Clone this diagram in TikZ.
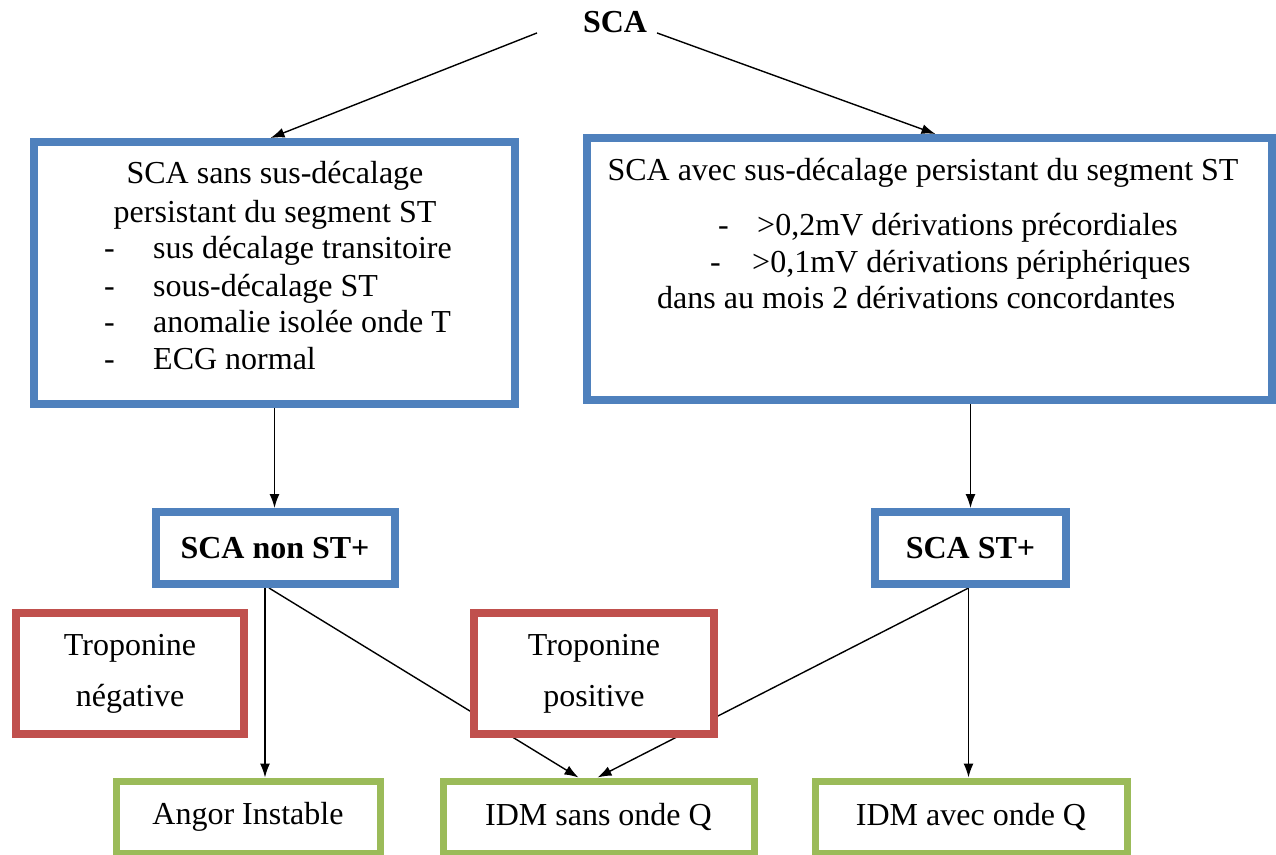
\documentclass[tikz,border=0pt]{standalone}
\usepackage{fontspec}
\setmainfont{Liberation Serif}
\usetikzlibrary{arrows.meta,backgrounds}

\definecolor{boxblue}{RGB}{79,129,189}
\definecolor{boxred}{RGB}{192,80,77}
\definecolor{boxgreen}{RGB}{155,187,89}

\tikzset{
	txt/.style={font=\fontsize{32}{38}\selectfont, inner sep=0pt},
	bld/.style={font=\fontsize{32}{38}\selectfont\bfseries, inner sep=0pt},
	tro/.style={font=\fontsize{32}{51}\selectfont, inner sep=0pt, align=center},
	bluebox/.style={draw=boxblue, line width=8pt, fill=white},
	redbox/.style={draw=boxred, line width=8pt, fill=white},
	greenbox/.style={draw=boxgreen, line width=7pt, fill=white},
	arr/.style={line width=1.4pt, -{Latex[length=14pt,width=10pt]}}
}

\begin{document}
\begin{tikzpicture}[x=1pt,y=1pt,yscale=-1,xscale=1]
		\useasboundingbox (0,0) rectangle (1276,854);
		
		\node [bld] (sca) at (615,22) {SCA};
		
		% two big boxes
		\node [bluebox, minimum width=481pt, minimum height=262pt] (nost) at (274.5,273) {};
		\node [bluebox, minimum width=685pt, minimum height=262pt] (cs) at (929.5,269) {};
		
		\node [txt, anchor=base] (nostA) at (275,183) {SCA sans sus-décalage};
		\node [txt, anchor=base] (nostB) at (275,222) {persistant du segment ST};
		\node [txt, anchor=base west] (d1) at (104,258) {-};
		\node [txt, anchor=base west] (l1) at (153,258) {sus décalage transitoire};
		\node [txt, anchor=base west] (d2) at (104,296) {-};
		\node [txt, anchor=base west] (l2) at (153,296) {sous-décalage ST};
		\node [txt, anchor=base west] (d3) at (104,332) {-};
		\node [txt, anchor=base west] (l3) at (153,332) {anomalie isolée onde T};
		\node [txt, anchor=base west] (d4) at (104,369) {-};
		\node [txt, anchor=base west] (l4) at (153,369) {ECG normal};
		
		\node [txt, anchor=base] (csA) at (923,180) {SCA avec sus-décalage persistant du segment ST};
		\node [txt, anchor=base west] (d5) at (718,235) {-};
		\node [txt, anchor=base west] (r1) at (757,235) {>0,2mV dérivations précordiales};
		\node [txt, anchor=base west] (d6) at (710,272) {-};
		\node [txt, anchor=base west] (r2) at (752,272) {>0,1mV dérivations périphériques};
		\node [txt, anchor=base west] (r3) at (657,308) {dans au mois 2 dérivations concordantes};
		
		% middle row
		\node [bluebox, bld, minimum width=239pt, minimum height=72pt] (nonst) at (275,548) {SCA non ST+};
		\node [bluebox, bld, minimum width=191pt, minimum height=72pt] (st) at (970.5,548) {SCA ST+};
		\node [redbox, tro, minimum width=228pt, minimum height=121pt] (tneg) at (130,673.5) {Troponine\\négative};
		\node [redbox, tro, minimum width=240pt, minimum height=121pt] (tpos) at (594,673.5) {Troponine\\positive};
		
		% bottom row
		\node [greenbox, txt, minimum width=264pt, minimum height=72pt] (angor) at (248,817) {Angor Instable};
		\node [greenbox, txt, minimum width=311pt, minimum height=72pt] (idm) at (598.5,817) {IDM sans onde Q};
		\node [greenbox, txt, minimum width=312pt, minimum height=72pt] (idmq) at (971,817) {IDM avec onde Q};
		
		\begin{scope}[on background layer]
		\draw [arr] ([xshift=-78pt]sca.south) -- ([xshift=-4pt]nost.north);
		\draw [arr] ([xshift=42pt]sca.south) -- ([xshift=6pt]cs.north);
		\draw [arr] (nost.south) -- (nost.south |- nonst.north);
		\draw [arr] (cs.south -| st.north) -- (st.north);
		\draw [arr] ([xshift=-10pt]nonst.south) -- ([xshift=-10pt]nonst.south |- angor.north);
		\draw [arr] ([xshift=-6pt]nonst.south) -- ([xshift=-20pt]idm.north);
		\draw [arr] ([xshift=-2pt]st.south) -- ([xshift=-1pt]idm.north);
		\draw [arr] ([xshift=-2pt]st.south) -- ([xshift=-2pt]st.south |- idmq.north);
		\end{scope}
		
\end{tikzpicture}
\end{document}
